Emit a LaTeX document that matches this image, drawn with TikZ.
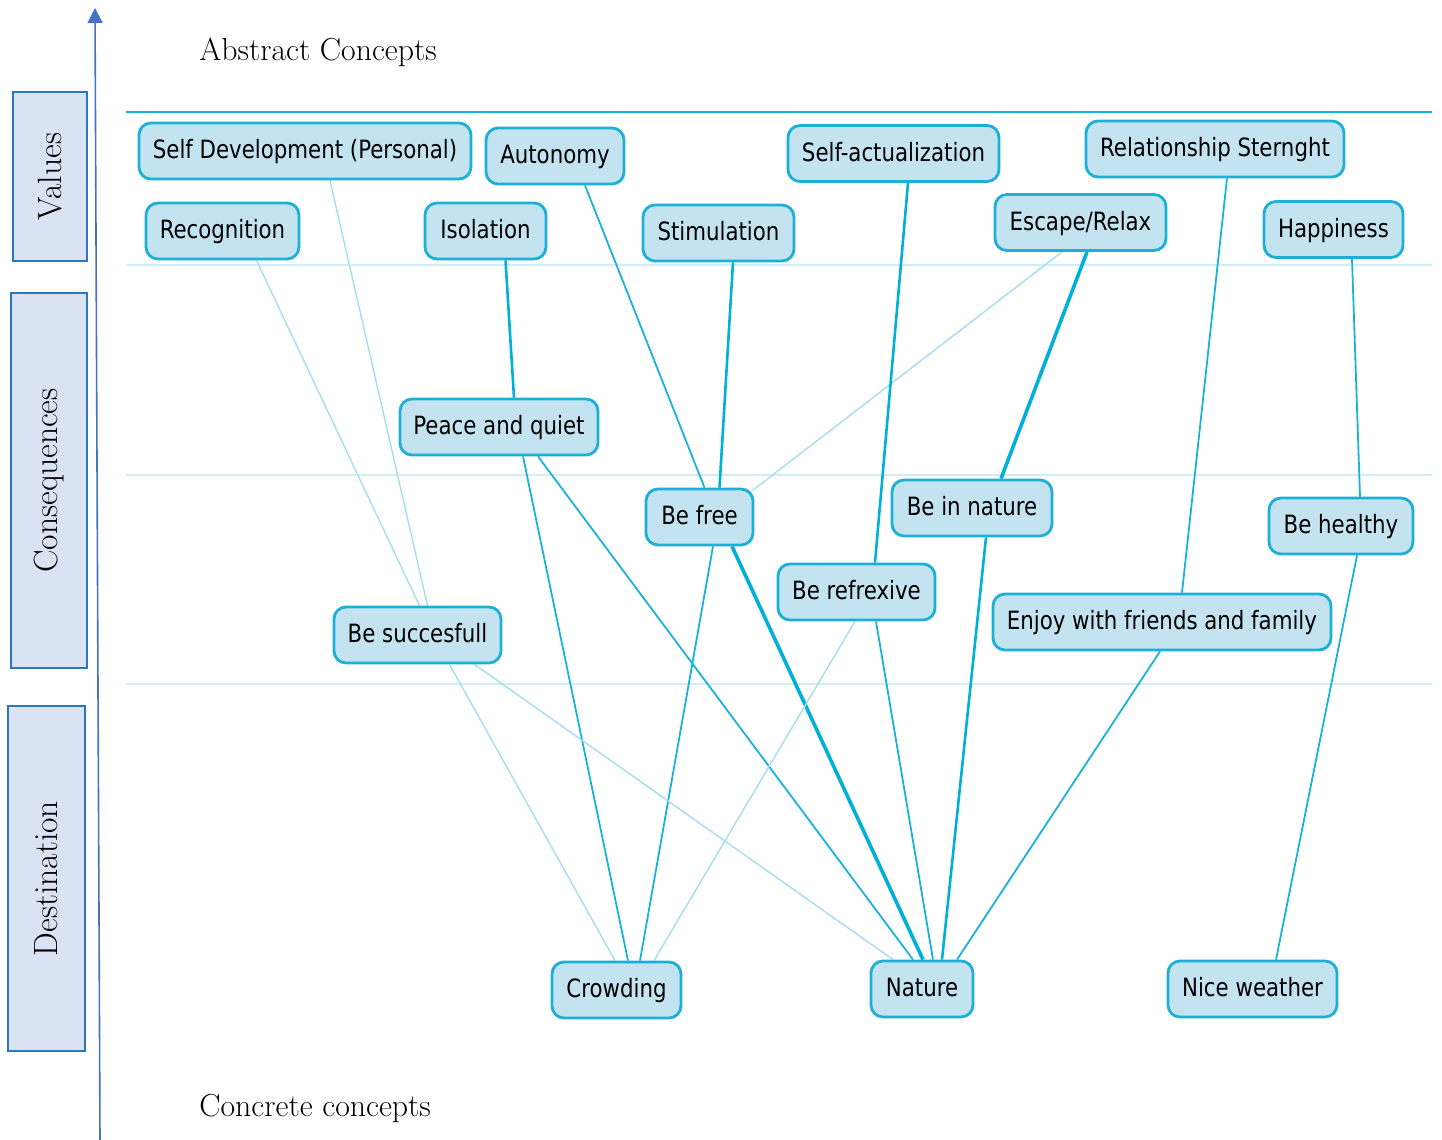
\documentclass[tikz,border=0pt]{standalone}
\usepackage{fontspec}
\newfontfamily\boxfont{DejaVu Sans Condensed}[FakeStretch=0.94]
\usetikzlibrary{calc,arrows.meta,backgrounds}
\definecolor{nodefill}{HTML}{C3E3F1}
\definecolor{nodeline}{HTML}{1CB0D6}
\definecolor{catfill}{HTML}{DAE3F3}
\definecolor{catline}{HTML}{2A77C0}
\definecolor{axisblue}{HTML}{4472C4}
\definecolor{toprule}{HTML}{12B2E2}
\definecolor{bandrule}{HTML}{D3EDF6}
\definecolor{linklite}{HTML}{A3DEF0}
\definecolor{linkmid}{HTML}{1BB2D9}
\definecolor{linkbold}{HTML}{00B0D8}
\tikzset{
  concept/.style={draw=nodeline, fill=nodefill, line width=1.4pt, rounded corners=6pt,
    minimum height=28pt, inner sep=0pt, text=black, text height=9.5pt, text depth=2pt,
    font=\boxfont\fontsize{12.6}{15}\selectfont},
  catbox/.style={draw=catline, fill=catfill, line width=1.3pt, rotate=90, inner sep=0pt,
    font=\fontsize{16.8}{19}\selectfont},
  heading/.style={anchor=base west, inner sep=0pt, font=\fontsize{15.9}{18}\selectfont},
  lite/.style={draw=linklite, line width=0.7pt},
  mid/.style={draw=linkmid, line width=0.9pt},
  semi/.style={draw=linkbold, line width=1.3pt},
  bold/.style={draw=linkbold, line width=1.8pt},
}
\begin{document}
\begin{tikzpicture}[x=0.5pt,y=-0.5pt]
\useasboundingbox (0,0) rectangle (1442,1140);

% level boxes on the left
\node[catbox, minimum width=84.5pt, minimum height=37pt] (values) at (50,176.5) {Values};
\node[catbox, minimum width=187.5pt, minimum height=38pt] (conseq) at (49,480.5) {Consequences};
\node[catbox, minimum width=172.5pt, minimum height=38.5pt] (dest) at (46.5,878.5) {Destination};

% vertical axis
\coordinate (axbot) at (100,1140);
\coordinate (axtop) at (95,8);
\draw[axisblue, line width=0.8pt, -{Triangle[width=7.5pt,length=7.5pt]}] (axbot) -- (axtop);

% headings
\node[heading] (abstract) at (199,61) {Abstract Concepts};
\node[heading] (concrete) at (199,1116) {Concrete concepts};

% values
\node[concept, minimum width=166pt] (selfdev) at (305,151) {Self Development (Personal)};
\node[concept, minimum width=69pt] (autonomy) at (555,156) {Autonomy};
\node[concept, minimum width=105.5pt] (selfact) at (893.5,153.5) {Self-actualization};
\node[concept, minimum width=129pt] (relation) at (1215,149) {Relationship Sternght};
\node[concept, minimum width=76.5pt] (recog) at (222.5,231) {Recognition};
\node[concept, minimum width=60.5pt] (isol) at (485.5,231) {Isolation};
\node[concept, minimum width=75.5pt] (stim) at (718.5,233) {Stimulation};
\node[concept, minimum width=85.5pt] (escape) at (1080.5,222.5) {Escape/Relax};
\node[concept, minimum width=69.5pt] (happy) at (1333.5,229.5) {Happiness};

% consequences
\node[concept, minimum width=99pt] (peace) at (499,427) {Peace and quiet};
\node[concept, minimum width=53.5pt] (befree) at (699.5,517) {Be free};
\node[concept, minimum width=80pt] (benature) at (972,508) {Be in nature};
\node[concept, minimum width=72pt] (behealthy) at (1341,526) {Be healthy};
\node[concept, minimum width=78.5pt] (berefl) at (856.5,592) {Be refrexive};
\node[concept, minimum width=169pt] (enjoy) at (1162,622) {Enjoy with friends and family};
\node[concept, minimum width=83.5pt] (besucc) at (417.5,635) {Be succesfull};

% destination attributes
\node[concept, minimum width=64.5pt] (crowd) at (616.5,990) {Crowding};
\node[concept, minimum width=51pt] (nature) at (922,989) {Nature};
\node[concept, minimum width=84.5pt] (weather) at (1252.5,989) {Nice weather};

\begin{scope}[on background layer]
  % level separators
  \coordinate (r0a) at (126,112);  \coordinate (r0b) at (1432,112);
  \coordinate (r1a) at (126,265);  \coordinate (r1b) at (1432,265);
  \coordinate (r2a) at (126,475);  \coordinate (r2b) at (1432,475);
  \coordinate (r3a) at (126,684);  \coordinate (r3b) at (1432,684);
  \draw[toprule, line width=0.7pt] (r0a) -- (r0b);
  \draw[bandrule, line width=1.1pt] (r1a) -- (r1b);
  \draw[bandrule, line width=1.1pt] (r2a) -- (r2b);
  \draw[bandrule, line width=1.1pt] (r3a) -- (r3b);

  % values -> consequences
  \draw[lite] ($(recog.south)+(34,0)$) -- ($(besucc.north)+(2,0)$);
  \draw[lite] ($(selfdev.south)+(25,0)$) -- ($(besucc.north)+(10,0)$);
  \draw[semi] ($(isol.south)+(20,0)$) -- ($(peace.north)+(15,0)$);
  \draw[mid] ($(autonomy.south)+(30,0)$) -- ($(befree.north)+(5,0)$);
  \draw[semi] ($(stim.south)+(14.5,0)$) -- ($(befree.north)+(20,0)$);
  \draw[lite] ($(escape.south)+(-18.5,0)$) -- ($(befree.north east)+(-2,3)$);
  \draw[semi] ($(selfact.south)+(14.5,0)$) -- ($(berefl.north)+(18.5,0)$);
  \draw[bold] ($(escape.south)+(6.5,0)$) -- ($(benature.north)+(29,0)$);
  \draw[mid] ($(relation.south)+(12,0)$) -- ($(enjoy.north)+(20,0)$);
  \draw[mid] ($(happy.south)+(18.5,0)$) -- ($(behealthy.north)+(19,0)$);

  % consequences -> destination attributes
  \draw[mid] ($(peace.south)+(24,0)$) -- ($(crowd.north)+(11.5,0)$);
  \draw[mid] ($(peace.south)+(39,0)$) -- ($(nature.north)+(-9,0)$);
  \draw[mid] ($(befree.south)+(13.5,0)$) -- ($(crowd.north)+(23.5,0)$);
  \draw[bold] ($(befree.south)+(32.5,0)$) -- ($(nature.north)+(1,0)$);
  \draw[lite] ($(berefl.south)+(-1.5,0)$) -- ($(crowd.north)+(37.5,0)$);
  \draw[mid] ($(berefl.south)+(19.5,0)$) -- ($(nature.north)+(11,0)$);
  \draw[semi] ($(benature.south)+(14,0)$) -- ($(nature.north)+(20,0)$);
  \draw[mid] ($(enjoy.south)+(-2,0)$) -- ($(nature.north)+(35,0)$);
  \draw[mid] ($(behealthy.south)+(16,0)$) -- ($(weather.north)+(23.5,0)$);
  \draw[lite] ($(besucc.south)+(32,0)$) -- ($(crowd.north)+(-1.5,0)$);
  \draw[lite] ($(besucc.south)+(57,0)$) -- ($(nature.north)+(-29,0)$);
\end{scope}
\end{tikzpicture}
\end{document}
